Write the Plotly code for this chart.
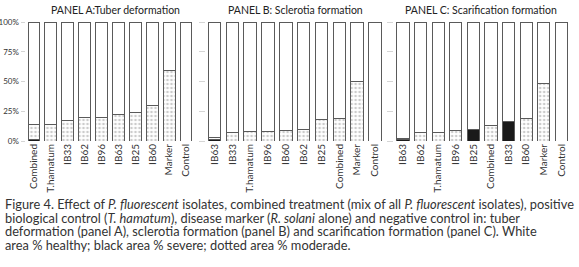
import plotly.graph_objects as go

# ---- data ----
cats_a = ["Combined", "T.hamatum", "IB33", "IB62", "IB96", "IB63", "IB25", "IB60", "Marker", "Control"]
severe_a = [1, 0, 0, 0, 0, 0, 0, 0, 0, 0]
moderate_a = [13, 14, 17, 20, 20, 22, 24, 30, 59, 0]

cats_b = ["IB63", "IB33", "T.hamatum", "IB96", "IB60", "IB62", "IB25", "Combined", "Marker", "Control"]
severe_b = [1, 0, 0, 0, 0, 0, 0, 0, 0, 0]
moderate_b = [2, 7, 8, 8, 9, 10, 18, 19, 50, 0]

cats_c = ["IB63", "IB62", "T.hamatum", "IB96", "IB25", "Combined", "IB33", "IB60", "Marker", "Control"]
severe_c = [1, 0, 0, 0, 10, 0, 16, 0, 0, 0]
moderate_c = [1, 7, 7, 9, 0, 13, 0, 19, 48, 0]

titles = ["PANEL A:Tuber deformation", "PANEL B: Sclerotia formation", "PANEL C: Scarification formation"]
ytick_vals = [0, 25, 50, 75, 100]
ytick_text = ["0%", "25%", "50%", "75%", "100%"]

W, H = 579, 267
FONT = "Lato"

fig = go.Figure()
panels = [(cats_a, severe_a, moderate_a), (cats_b, severe_b, moderate_b), (cats_c, severe_c, moderate_c)]
# pixel domains (left, right) for each panel
xdom_px = [(25.5, 194.5), (205.6, 383.9), (394.2, 570.2)]
ydom = [(267 - 141) / H, (267 - 22) / H]
title_x = [115, 295, 481]

for i, (cats, sev, mod) in enumerate(panels):
    xa = "x" if i == 0 else f"x{i+1}"
    ya = "y" if i == 0 else f"y{i+1}"
    healthy = [100 - s - m for s, m in zip(sev, mod)]
    line = dict(color="#5a5a5a", width=1)
    fig.add_trace(go.Bar(x=cats, y=sev, xaxis=xa, yaxis=ya, width=0.7,
                         marker=dict(color="#1a1a1a", line=line), showlegend=False))
    fig.add_trace(go.Bar(x=cats, y=mod, xaxis=xa, yaxis=ya, width=0.7,
                         marker=dict(color="white", line=line,
                                     pattern=dict(shape=".", fgcolor="#9a9a9a", bgcolor="white",
                                                  size=4, solidity=0.35)),
                         showlegend=False))
    fig.add_trace(go.Bar(x=cats, y=healthy, xaxis=xa, yaxis=ya, width=0.7,
                         marker=dict(color="white", line=line), showlegend=False))

    xkey = "xaxis" if i == 0 else f"xaxis{i+1}"
    ykey = "yaxis" if i == 0 else f"yaxis{i+1}"
    l, r = xdom_px[i]
    fig.update_layout(**{
        xkey: dict(domain=[l / W, r / W], anchor=ya, tickangle=-90, showgrid=False,
                   showline=False, zeroline=False, ticks="", automargin=False,
                   tickfont=dict(family=FONT, size=10, color="#333"), fixedrange=True),
        ykey: dict(domain=list(ydom), anchor=xa, range=[0, 100], tickvals=ytick_vals,
                   ticktext=ytick_text if i == 0 else ["" for _ in ytick_vals],
                   showgrid=False, zeroline=False, showline=False, automargin=False,
                   ticks="outside", ticklen=6 if i else 4, tickcolor="#d5d5d5",
                   tickfont=dict(family=FONT, size=8, color="#333")),
    })
    fig.add_annotation(x=title_x[i] / W, y=(267 - 10) / H, xref="paper", yref="paper",
                       text=titles[i], showarrow=False, xanchor="center", yanchor="middle",
                       font=dict(family=FONT, size=10.5, color="#222"))

caption = [
    "Figure 4. Effect of <i>P. fluorescent</i> isolates, combined treatment (mix of all <i>P. fluorescent</i> isolates), positive",
    "biological control (<i>T. hamatum</i>), disease marker (<i>R. solani</i> alone) and negative control in: tuber",
    "deformation (panel A), sclerotia formation (panel B) and scarification formation (panel C). White",
    "area % healthy; black area % severe; dotted area % moderade.",
]
cap_y = [204, 217.5, 231, 244.5]
for t, yy in zip(caption, cap_y):
    fig.add_annotation(x=3 / W, y=(H - yy) / H, xref="paper", yref="paper", text=t,
                       showarrow=False, xanchor="left", yanchor="middle",
                       font=dict(family=FONT, size=12.8, color="#333"))

fig.update_layout(width=W, height=H, margin=dict(l=0, r=0, t=0, b=0),
                  barmode="stack", bargap=0.3, plot_bgcolor="white", paper_bgcolor="white")

fig.write_html("out.html", config={"displayModeBar": False},
               post_script="document.body.style.margin='0';document.body.style.overflow='hidden';")
